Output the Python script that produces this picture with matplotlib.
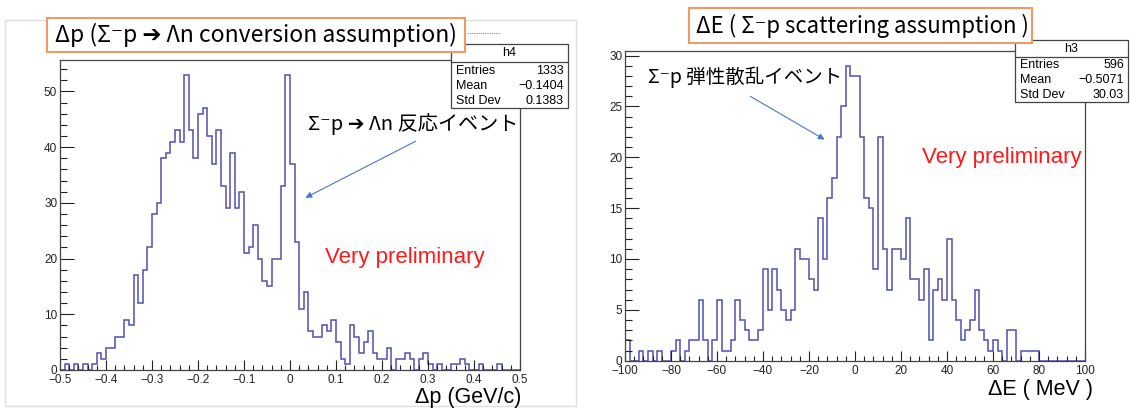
import numpy as np
import matplotlib
matplotlib.use('Agg')
import matplotlib.pyplot as plt
from matplotlib.patches import Rectangle, FancyArrowPatch
from matplotlib.lines import Line2D
from matplotlib.ticker import MultipleLocator

# ---------------- data ----------------
dp_range = (-0.5, 0.5)
dp_counts = [0, 1, 0, 1, 0, 1, 0, 1, 3, 2,
             4, 4, 6, 6, 9, 8, 17, 12, 18, 22,
             28, 30, 38, 39, 41, 43, 41, 53, 43, 38,
             46, 47, 42, 37, 43, 33, 29, 39, 29, 32,
             21, 22, 26, 20, 16, 15, 20, 20, 33, 53,
             37, 23, 11, 14, 7, 6, 6, 8, 7, 9,
             5, 2, 1, 8, 6, 3, 5, 7, 3, 2,
             2, 4, 0, 2, 2, 3, 2, 0, 2, 3,
             1, 0, 1, 0, 0, 1, 1, 2, 1, 0,
             0, 1, 0, 0, 0, 1, 0, 0, 0, 0]
dp_stats = ["1333", "\u22120.1404", "0.1383"]

de_range = (-100, 100)
de_counts = [2, 0, 0, 1, 0, 1, 0, 1, 0, 0,
             1, 2, 0, 1, 2, 2, 6, 2, 0, 2,
             6, 1, 1, 2, 6, 4, 3, 2, 2, 3,
             9, 5, 9, 7, 5, 4, 5, 11, 10, 10,
             8, 7, 14, 10, 16, 18, 22, 25, 29, 28,
             28, 22, 16, 15, 9, 22, 11, 7, 11, 11,
             10, 14, 8, 8, 6, 9, 2, 7, 8, 6,
             12, 6, 4, 2, 3, 4, 7, 3, 2, 1,
             2, 1, 0, 3, 3, 0, 1, 1, 1, 1,
             0, 0, 0, 0, 0, 0, 0, 0, 0, 0]
de_stats = ["596", "\u22120.5071", "30.03"]
stat_names = ["Entries", "Mean", "Std Dev"]

# ---------------- figure ----------------
W, H = 1130, 409
fig = plt.figure(figsize=(W / 100, H / 100), dpi=100)
fig.patch.set_facecolor('white')

def fx(x):
    return x / W

def fy(y):
    return 1 - y / H

HCOL = '#5050b4'
JP = ['Noto Sans CJK JP', 'DejaVu Sans']
SANS = ['Liberation Sans', 'DejaVu Sans']
ORANGE = '#ef9a62'
ARROW = '#4a78c2'

# outer gray frame of left canvas
fig.add_artist(Rectangle((fx(5), fy(406)), 571 / W, 386 / H, transform=fig.transFigure,
                         fill=False, ec='#dedede', lw=1.0))


def make_hist(rect_px, counts, rng, xmaj, xmin, ymaj, ymin):
    x0, y0, x1, y1 = rect_px
    ax = fig.add_axes([fx(x0), fy(y1), (x1 - x0) / W, (y1 - y0) / H])
    edges = np.linspace(rng[0], rng[1], len(counts) + 1)
    ax.stairs(counts, edges, color=HCOL, lw=1.1, baseline=0)
    ax.set_xlim(rng)
    ax.set_ylim(0, 1.05 * max(counts))
    ax.xaxis.set_major_locator(MultipleLocator(xmaj))
    ax.xaxis.set_minor_locator(MultipleLocator(xmin))
    ax.yaxis.set_major_locator(MultipleLocator(ymaj))
    ax.yaxis.set_minor_locator(MultipleLocator(ymin))
    ax.tick_params(axis='both', which='both', direction='in', top=False, right=False,
                   labelsize=8.5, colors='#222222')
    ax.tick_params(axis='y', which='major', length=10, width=0.8, pad=2)
    ax.tick_params(axis='y', which='minor', length=5, width=0.8)
    ax.tick_params(axis='x', which='major', length=7, width=0.8, pad=3)
    ax.tick_params(axis='x', which='minor', length=3.5, width=0.8)
    for lab in ax.get_xticklabels() + ax.get_yticklabels():
        lab.set_family(SANS)
    for s in ax.spines.values():
        s.set_color('#444444')
        s.set_linewidth(0.9)
    return ax


ax1 = make_hist((60, 60, 520, 370), dp_counts, dp_range, 0.1, 0.02, 10, 2)
ax1.xaxis.set_major_formatter(plt.FuncFormatter(lambda v, p: ('%g' % round(v, 2)).replace('-', '\u2212')))
ax2 = make_hist((625, 51, 1085, 360.7), de_counts, de_range, 20, 4, 5, 1)

# axis titles
fig.text(fx(521), fy(397), "\u0394p (GeV/c)", ha='right', va='center', fontsize=15.5, family=SANS)
fig.text(fx(1093), fy(389), "\u0394E ( MeV )", ha='right', va='center', fontsize=15.5, family=SANS)


def stats_box(x0, y0, x1, y1, yh, name, vals, rows_y):
    fig.add_artist(Rectangle((fx(x0), fy(y1)), (x1 - x0) / W, (y1 - y0) / H,
                             transform=fig.transFigure, fc='white', ec='#444444', lw=0.9, zorder=5))
    fig.add_artist(Line2D([fx(x0), fx(x1)], [fy(yh), fy(yh)], transform=fig.transFigure,
                          color='#444444', lw=0.9, zorder=6))
    fig.text(fx((x0 + x1) / 2), fy((y0 + yh) / 2), name, ha='center', va='center',
             fontsize=9, family=SANS, zorder=7)
    for nm, v, yy in zip(stat_names, vals, rows_y):
        fig.text(fx(x0 + 5), fy(yy), nm, ha='left', va='center', fontsize=9, family=SANS, zorder=7)
        fig.text(fx(x1 - 4), fy(yy), v, ha='right', va='center', fontsize=9, family=SANS, zorder=7)


stats_box(451, 44, 568, 108, 62, "h4", dp_stats, [71, 86, 101])
stats_box(1015, 40, 1128, 102, 57, "h3", de_stats, [65, 80, 95])

# title boxes
fig.add_artist(Line2D([fx(467), fx(500)], [fy(33), fy(33)], transform=fig.transFigure,
                      color='#888888', lw=0.8, ls=(0, (1, 1))))
fig.add_artist(Rectangle((fx(47), fy(52)), (465 - 47) / W, (52 - 18) / H,
                         transform=fig.transFigure, fc='white', ec=ORANGE, lw=1.5, zorder=8))
fig.text(fx(256), fy(35), "\u0394p (\u03a3\u207bp \u2794 \u039bn conversion assumption)",
         ha='center', va='center', fontsize=16.5, family=JP, zorder=9)

fig.add_artist(Rectangle((fx(689), fy(43)), (1032 - 689) / W, (43 - 8) / H,
                         transform=fig.transFigure, fc='white', ec=ORANGE, lw=1.5, zorder=8))
fig.text(fx(862), fy(26), "\u0394E ( \u03a3\u207bp scattering assumption )",
         ha='center', va='center', fontsize=16, family=JP, zorder=9)

# annotations
fig.text(fx(413), fy(124), "\u03a3\u207bp \u2794 \u039bn 反応イベント", ha='center', va='center',
         fontsize=14.5, family=JP)
fig.add_artist(FancyArrowPatch((fx(418), fy(140)), (fx(303), fy(199)), transform=fig.transFigure,
                               arrowstyle='-|>', mutation_scale=9, color=ARROW, lw=0.8))

fig.text(fx(745), fy(77), "\u03a3\u207bp 弾性散乱イベント", ha='center', va='center',
         fontsize=14, family=JP)
fig.add_artist(FancyArrowPatch((fx(748), fy(95)), (fx(827), fy(141)), transform=fig.transFigure,
                               arrowstyle='-|>', mutation_scale=9, color=ARROW, lw=0.8))

# very preliminary
fig.text(fx(405), fy(258), "Very preliminary", ha='center', va='center', fontsize=16,
         color='#ff1a1a', family=SANS)
fig.text(fx(1002), fy(157), "Very preliminary", ha='center', va='center', fontsize=16,
         color='#ff1a1a', family=SANS)

fig.savefig('out.png', dpi=100)
